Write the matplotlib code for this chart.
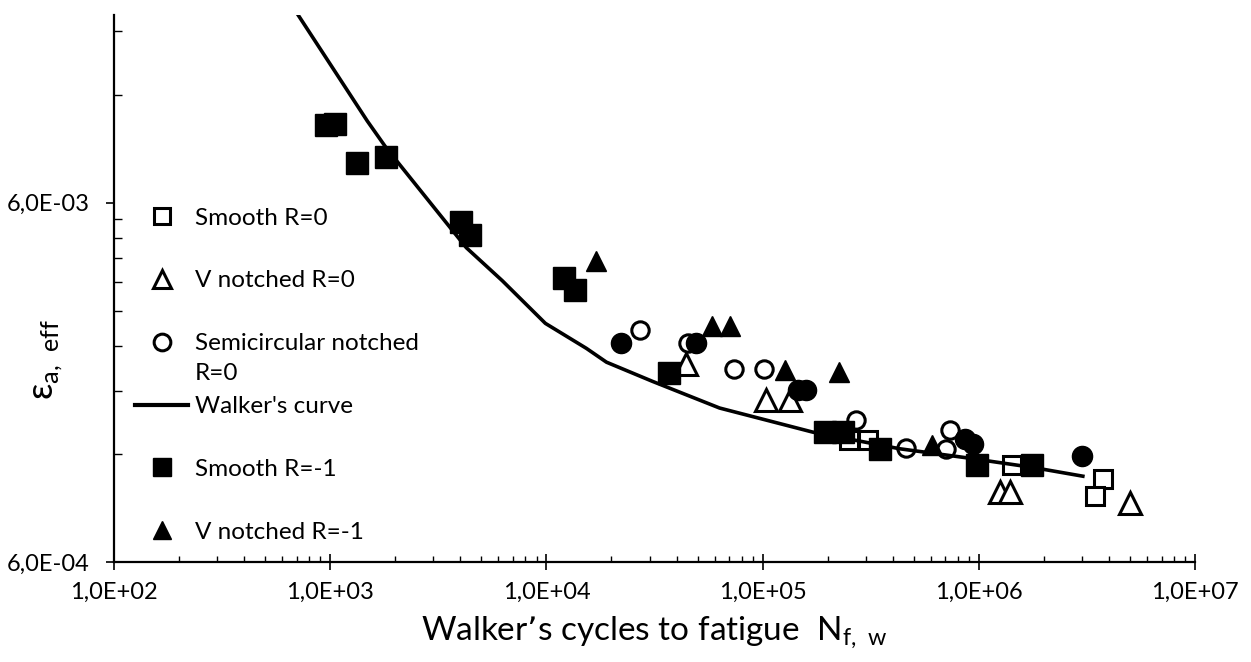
import matplotlib
matplotlib.use("Agg")
import matplotlib.pyplot as plt
from matplotlib.lines import Line2D
from matplotlib.ticker import FixedLocator, LogLocator, FuncFormatter, NullFormatter

plt.rcParams['font.family'] = ['Lato', 'DejaVu Sans']

# Smooth R=0 (open squares)
smooth0_n = [251000, 307300, 1417000, 3739000, 3443000]
smooth0_e = [0.00131, 0.00131, 0.00112, 0.00102, 0.000915]

# V notched R=0 (open triangles)
vnotch0_n = [44330, 104000, 133400, 1251000, 1392000, 5003000]
vnotch0_e = [0.00214, 0.00169, 0.00169, 0.00094, 0.00094, 0.000874]

# Semicircular notched R=0 (open circles)
semi0_n = [27150, 45100, 73650, 101400, 269500, 459300, 734300, 708300]
semi0_e = [0.00266, 0.00244, 0.00207, 0.00207, 0.00149, 0.00125, 0.00140, 0.00124]

# Walker's curve
walker_n = [646, 1484, 1817, 4262, 6256, 9894, 15310, 18960, 30960, 63240,
            170300, 430600, 879600, 1778000, 3029000]
walker_e = [0.02184, 0.01014, 0.00853, 0.0045, 0.00364, 0.00277, 0.00236, 0.00216,
            0.00191, 0.00161, 0.00138, 0.00124, 0.00117, 0.0011, 0.00104]

# Smooth R=-1 (filled squares)
smooth1_n = [958, 1055, 1337, 1811, 4028, 4434, 12117, 13622, 37100, 193700,
             234600, 348300, 986000, 1766000]
smooth1_e = [0.00988, 0.00994, 0.00772, 0.00807, 0.00529, 0.00488, 0.0037, 0.00343,
             0.00201, 0.00138, 0.00138, 0.00124, 0.00112, 0.00112]

# V notched R=-1 (filled triangles)
vnotch1_n = [17030, 58050, 70350, 126500, 224800, 605500]
vnotch1_e = [0.00414, 0.00273, 0.00273, 0.00205, 0.00203, 0.00127]

# Semicircular notched R=-1 (filled circles, not in legend)
semi1_n = [22180, 48980, 145700, 159300, 861500, 941000, 2988000]
semi1_e = [0.00244, 0.00244, 0.00181, 0.00181, 0.00132, 0.00128, 0.00118]

fig = plt.figure(figsize=(12.51, 6.62), dpi=100)
ax = fig.add_axes([114 / 1251, 100 / 662, 1081 / 1251, 547 / 662])

open_kw = dict(ls='none', mfc='white', mec='black', mew=2.2)
ax.plot(smooth0_n, smooth0_e, marker='s', ms=13, zorder=3, **open_kw)
ax.plot(vnotch0_n, vnotch0_e, marker='^', ms=16, zorder=3, **open_kw)
ax.plot(semi0_n, semi0_e, marker='o', ms=12.5, zorder=3, **open_kw)
ax.plot(walker_n, walker_e, color='black', lw=2.6, zorder=4)
fill_kw = dict(ls='none', mfc='black', mec='black', mew=1)
ax.plot(smooth1_n, smooth1_e, marker='s', ms=15.5, zorder=5, **fill_kw)
ax.plot(vnotch1_n, vnotch1_e, marker='^', ms=15, zorder=5, **fill_kw)
ax.plot(semi1_n, semi1_e, marker='o', ms=14.5, zorder=5, **fill_kw)

ax.set_xscale('log')
ax.set_yscale('log')
ax.set_xlim(1e2, 1e7)
ax.set_ylim(6e-4, 2e-2)

sci = FuncFormatter(lambda v, p: f"{v:.1E}".replace('.', ','))
ax.xaxis.set_major_locator(LogLocator(base=10))
ax.xaxis.set_minor_locator(LogLocator(base=10, subs=range(2, 10)))
ax.xaxis.set_major_formatter(sci)
ax.xaxis.set_minor_formatter(NullFormatter())
ax.yaxis.set_major_locator(FixedLocator([6e-4, 6e-3]))
ax.yaxis.set_minor_locator(FixedLocator([k * 6e-4 for k in range(2, 10)] + [1.2e-2, 1.8e-2]))
ax.yaxis.set_major_formatter(sci)
ax.yaxis.set_minor_formatter(NullFormatter())

for s in ['top', 'right']:
    ax.spines[s].set_visible(False)
for s in ['left', 'bottom']:
    ax.spines[s].set_linewidth(1.6)

ax.tick_params(axis='x', which='major', direction='inout', length=11, width=1.2,
               labelsize=17, pad=9)
ax.tick_params(axis='x', which='minor', direction='in', length=4.5, width=1.0)
ax.tick_params(axis='y', which='major', direction='out', length=5.5, width=1.2,
               labelsize=17, pad=12)
ax.tick_params(axis='y', which='minor', direction='in', length=5.5, width=1.0)

ax.set_xlabel('Walker’s cycles to fatigue  N$_\\mathregular{f,\\ w}$', fontsize=24, labelpad=8)
ax.set_ylabel('ε$_\\mathregular{a,\\ eff}$', fontsize=26)
ax.yaxis.set_label_coords(-0.045, 0.37)

handles = [
    Line2D([], [], marker='s', ms=12, **open_kw),
    Line2D([], [], marker='^', ms=13, **open_kw),
    Line2D([], [], marker='o', ms=12, **open_kw),
    Line2D([], [], color='black', lw=3),
    Line2D([], [], marker='s', ms=13.5, **fill_kw),
    Line2D([], [], marker='^', ms=13.5, **fill_kw),
]
labels = ['Smooth R=0', 'V notched R=0', 'Semicircular notched', "Walker's curve",
          'Smooth R=-1', 'V notched R=-1']
ax.legend(handles, labels, loc='upper left', bbox_to_anchor=(0.0194, 0.648),
          frameon=False, fontsize=17.5, handlelength=2.2, handletextpad=0.25,
          labelspacing=1.72, borderpad=0, borderaxespad=0)
ax.text((195 - 114) / 1081, (562 - 374) / 547, 'R=0', transform=ax.transAxes,
        fontsize=17.5, va='center', ha='left')

fig.savefig('out.png', dpi=100)
